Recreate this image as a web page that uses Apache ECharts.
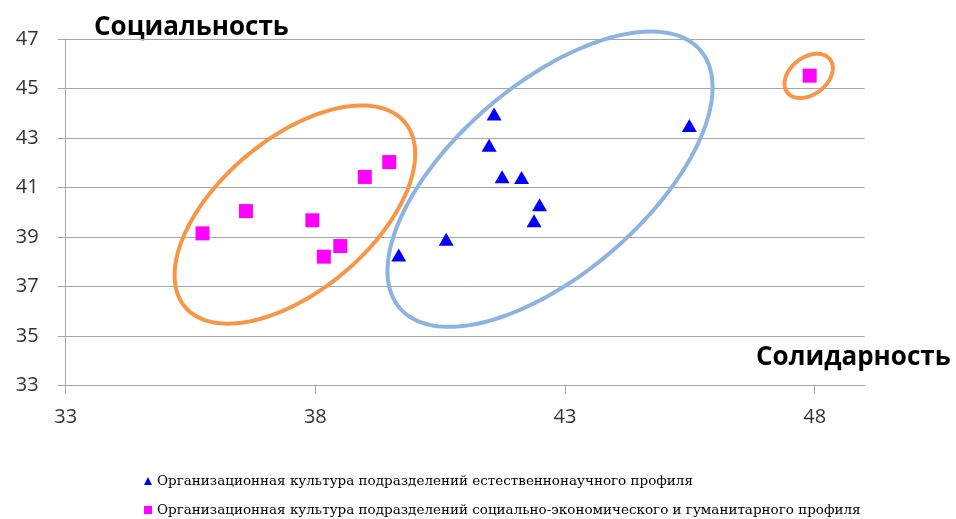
<!DOCTYPE html>
<html>
<head>
<meta charset="utf-8">
<script src="https://cdn.jsdelivr.net/npm/echarts@6/dist/echarts.min.js"></script>
<style>
  html, body { margin: 0; padding: 0; background: #ffffff; }
  #chart { width: 956px; height: 519px; }
</style>
</head>
<body>
<div id="chart"></div>
<script>
// Series names
const seriesNames = [
  'Организационная культура подразделений естественнонаучного профиля',
  'Организационная культура подразделений социально-экономического и гуманитарного профиля'
];

// Natural-science departments (solidarity, sociability)
const naturalX = [41.58, 41.48, 41.74, 42.13, 42.49, 42.38, 40.62, 39.67, 45.49];
const naturalY = [43.97, 42.71, 41.44, 41.41, 40.31, 39.66, 38.91, 38.28, 43.51];

// Social-economic and humanities departments
const socialX = [35.74, 36.61, 37.94, 38.17, 38.50, 38.99, 39.48, 47.90];
const socialY = [39.15, 40.05, 39.68, 38.21, 38.64, 41.43, 42.03, 45.52];

// Axis ticks
const xTicks = [33, 38, 43, 48];
const yTicks = [33, 35, 37, 39, 41, 43, 45, 47];

// Axis titles
const yTitle = 'Социальность';
const xTitle = 'Солидарность';

// Group outlines: centre in data units
const groupCentersX = [37.59, 42.70, 47.88];
const groupCentersY = [39.91, 41.34, 45.51];
// Outline geometry (pixels / degrees) and colours
const outlineShape = [
  { rx: 143.5, ry: 76, angle: 40, color: '#F79646' },
  { rx: 198, ry: 95, angle: 40.6, color: '#8DB3E2' },
  { rx: 27, ry: 18.5, angle: 38, color: '#F79646' }
];

const zip = (xs, ys) => xs.map((x, i) => [x, ys[i]]);

const chart = echarts.init(document.getElementById('chart'), null, { renderer: 'canvas' });

const gridColor = '#A6A6A6';
const labelFont = { fontFamily: 'Open Sans', fontSize: 20, color: '#333333' };
const legendText = { fontFamily: 'DejaVu Serif', fontSize: 13.5, color: '#000000' };

chart.setOption({
  animation: false,
  backgroundColor: '#ffffff',
  grid: { left: 65.7, top: 39, right: 91.4, bottom: 133.3, containLabel: false },
  xAxis: {
    type: 'value',
    min: 33,
    max: 49,
    axisLine: { show: true, lineStyle: { color: gridColor, width: 1 } },
    axisTick: { show: true, length: 8, customValues: xTicks, lineStyle: { color: gridColor } },
    axisLabel: Object.assign({ margin: 22, customValues: xTicks }, labelFont),
    splitLine: { show: false }
  },
  yAxis: {
    type: 'value',
    min: 33,
    max: 47,
    interval: 2,
    axisLine: { show: true, lineStyle: { color: gridColor, width: 1 } },
    axisTick: { show: true, length: 8, customValues: yTicks, lineStyle: { color: gridColor } },
    axisLabel: Object.assign({ margin: 27, customValues: yTicks }, labelFont),
    splitLine: { show: true, lineStyle: { color: gridColor, width: 1 } }
  },
  legend: [
    {
      data: [seriesNames[0]],
      left: 144,
      top: 474,
      padding: 0,
      itemWidth: 8,
      itemHeight: 8,
      textStyle: legendText
    },
    {
      data: [seriesNames[1]],
      left: 144,
      top: 503,
      padding: 0,
      itemWidth: 8,
      itemHeight: 8,
      textStyle: legendText
    }
  ],
  graphic: [
    {
      type: 'text',
      left: 94,
      top: 15,
      style: { text: yTitle, font: 'bold 26px "Open Sans"', fill: '#000000' }
    },
    {
      type: 'text',
      left: 756,
      top: 345,
      style: { text: xTitle, font: 'bold 26px "Open Sans"', fill: '#000000' }
    }
  ],
  series: [
    {
      name: seriesNames[0],
      type: 'scatter',
      symbol: 'triangle',
      symbolSize: [15, 13],
      itemStyle: { color: '#0000FF', opacity: 1 },
      data: zip(naturalX, naturalY),
      z: 3
    },
    {
      name: seriesNames[1],
      type: 'scatter',
      symbol: 'rect',
      symbolSize: 14,
      itemStyle: { color: '#FF00FF', opacity: 1 },
      data: zip(socialX, socialY),
      z: 3
    },
    {
      name: 'outlines',
      type: 'custom',
      silent: true,
      z: 4,
      data: zip(groupCentersX, groupCentersY),
      renderItem: function (params, api) {
        const c = api.coord([api.value(0), api.value(1)]);
        const s = outlineShape[params.dataIndex];
        const t = s.angle * Math.PI / 180;
        const pts = [];
        for (let i = 0; i < 180; i++) {
          const p = i / 180 * Math.PI * 2;
          const u = s.rx * Math.cos(p);
          const v = s.ry * Math.sin(p);
          pts.push([c[0] + u * Math.cos(t) + v * Math.sin(t),
                    c[1] - u * Math.sin(t) + v * Math.cos(t)]);
        }
        return {
          type: 'polygon',
          shape: { points: pts },
          style: { fill: 'none', stroke: s.color, lineWidth: 4 }
        };
      }
    }
  ]
});
</script>
</body>
</html>
